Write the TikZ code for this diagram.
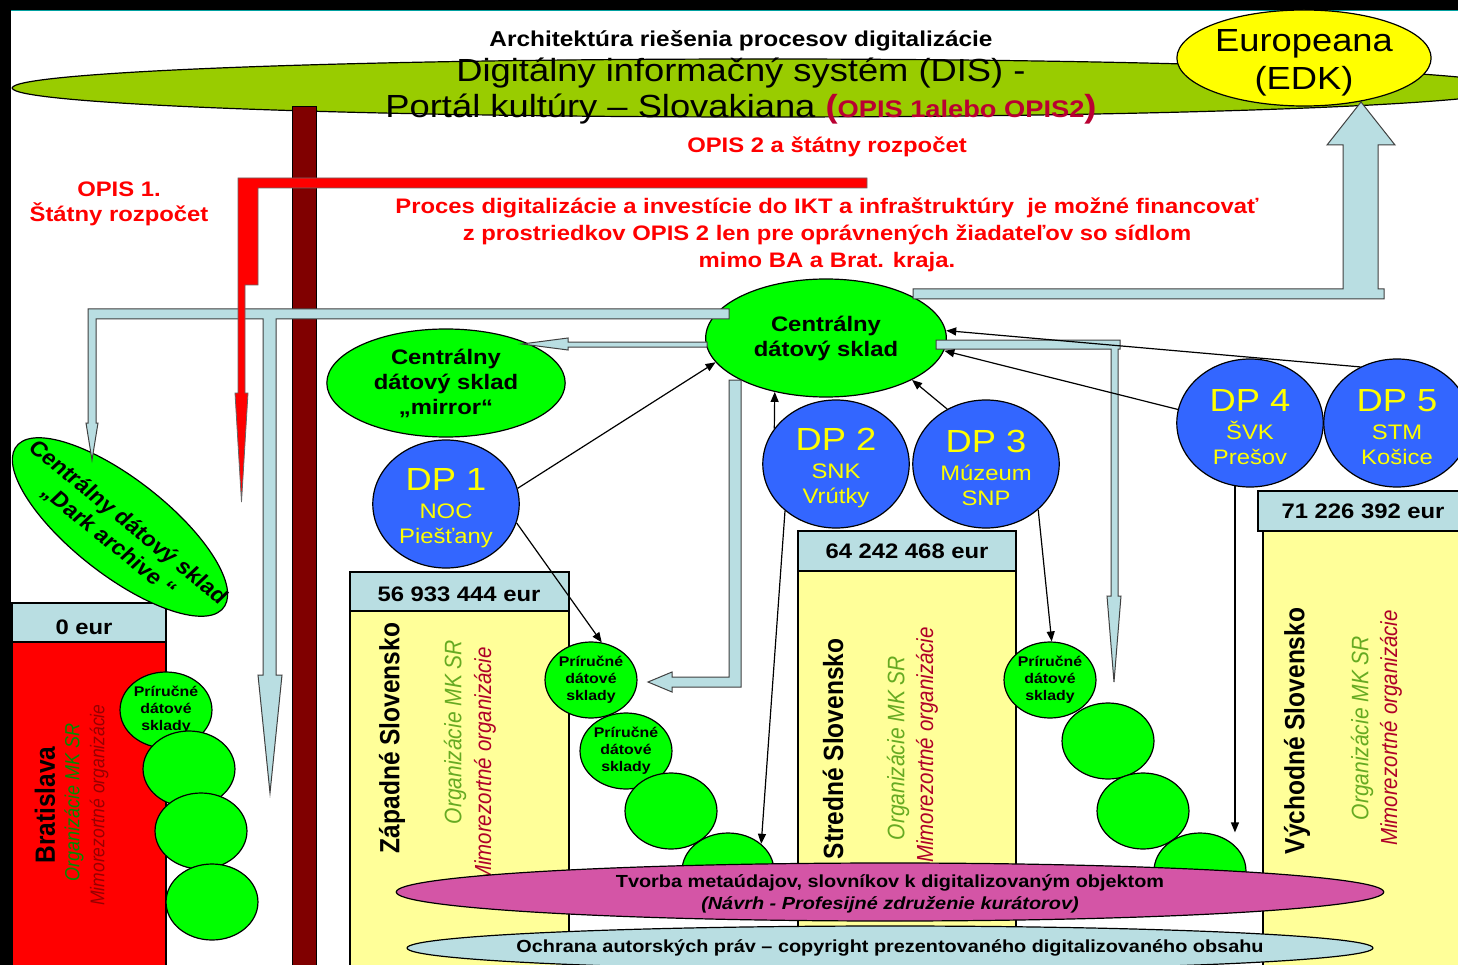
\documentclass[tikz,border=0pt]{standalone}
\usepackage{fontspec}
\setmainfont{Liberation Sans}
\usetikzlibrary{shapes.geometric,arrows.meta}

\definecolor{disgreen}{RGB}{153,204,0}
\definecolor{cgreen}{RGB}{0,255,0}
\definecolor{dpblue}{RGB}{51,102,255}
\definecolor{dpyellow}{RGB}{255,255,0}
\definecolor{pipeblue}{RGB}{185,222,226}
\definecolor{boxyellow}{RGB}{255,255,153}
\definecolor{barred}{RGB}{128,0,0}
\definecolor{metapink}{RGB}{212,85,166}
\definecolor{opisred}{RGB}{185,0,50}
\definecolor{orggreen}{RGB}{102,170,34}
\definecolor{mimred}{RGB}{175,0,40}
\definecolor{orgdark}{RGB}{0,140,0}
\definecolor{mimdark}{RGB}{150,0,0}
\definecolor{frameteal}{RGB}{0,160,160}

\newcommand{\dptitle}[1]{{\fontsize{32}{32}\selectfont\rule{0pt}{31pt}#1}\\[3pt]}

\begin{document}
\begin{tikzpicture}[x={(0.881057pt,0pt)}, y={(0pt,-1pt)}, xscale=1.135, transform shape,
  every node/.style={inner sep=0pt, align=center},
  dsklad/.style={ellipse, draw, line width=1.2pt, fill=cgreen, font=\bfseries\fontsize{21}{25}\selectfont},
  dpnode/.style={ellipse, draw, line width=1.2pt, fill=dpblue, text=dpyellow, minimum width=129pt, minimum height=128pt, font=\fontsize{21}{25}\selectfont},
  store/.style={ellipse, draw, line width=1.2pt, fill=cgreen, minimum width=81pt, minimum height=76pt, font=\bfseries\fontsize{14}{17}\selectfont},
  pipe/.style={fill=pipeblue, draw=black!75, line width=1pt},
  link/.style={-{Triangle[length=10pt,width=8pt]}, line width=1.2pt},
  redtext/.style={text=red, font=\bfseries\fontsize{21}{27}\selectfont},
  money/.style={font=\bfseries\fontsize{21}{25}\selectfont},
  region/.style={rotate=90, font=\bfseries\fontsize{24.5}{28}\selectfont},
  orglabel/.style={rotate=90, text=orggreen, font=\itshape\fontsize{21}{25}\selectfont},
  mimlabel/.style={rotate=90, text=mimred, font=\itshape\fontsize{20.5}{25}\selectfont}]

\useasboundingbox (0,0) rectangle (1458,965);
\clip (0,0) rectangle (1458,965);

% frame
\fill[white] (0,0) rectangle (1458,965);
\fill[black] (0,0) rectangle (1458,10);
\fill[black] (0,0) rectangle (11,965);
\draw[frameteal, line width=1pt] (11,10.5) -- (1458,10.5);

% portal
\node[ellipse, draw, line width=1.2pt, fill=disgreen, minimum width=1323pt, minimum height=58pt] (dis) at (763,88) {};
\node[font=\bfseries\fontsize{21.5}{25}\selectfont, anchor=base] (title) at (741,47) {Architektúra riešenia procesov digitalizácie};
\node[font=\fontsize{32}{36}\selectfont, anchor=base] (dis1) at (741,82) {Digitálny informačný systém (DIS) -};
\node[font=\fontsize{32}{36}\selectfont, anchor=base] (dis2) at (741,118) {Portál kultúry – Slovakiana {\color{opisred}\bfseries(\fontsize{24}{28}\selectfont OPIS 1alebo OPIS2\fontsize{32}{36}\selectfont)}};

% regions
\draw[line width=1.2pt, fill=pipeblue] (12,603) rectangle (166,642);
\draw[line width=1.2pt, fill=red] (12,642) rectangle (166,970);
\node[money] (eurB) at (84,627) {0 eur};
\draw[line width=1.2pt, fill=pipeblue] (350,572) rectangle (569,611);
\draw[line width=1.2pt, fill=boxyellow] (350,611) rectangle (569,970);
\node[money] (eurW) at (459,594) {56 933 444 eur};
\draw[line width=1.2pt, fill=pipeblue] (798,531) rectangle (1016,571);
\draw[line width=1.2pt, fill=boxyellow] (798,571) rectangle (1016,970);
\node[money] (eurC) at (907,551) {64 242 468 eur};
\draw[line width=1.2pt, fill=pipeblue] (1258,491) rectangle (1470,531);
\draw[line width=1.2pt, fill=boxyellow] (1263,531) rectangle (1470,970);
\node[money] (eurE) at (1363,511) {71 226 392 eur};

\node[region] (regB) at (45,805) {Bratislava};
\node[orglabel, text=orgdark, font=\itshape\fontsize{18}{22}\selectfont] (orgB) at (74,802) {Organizácie MK SR};
\node[mimlabel, text=mimdark, font=\itshape\fontsize{17.5}{22}\selectfont] (mimB) at (99,805) {Mimorezortné organizácie};
\node[region] (regW) at (392,738) {Západné Slovensko};
\node[orglabel] (orgW) at (455,732) {Organizácie MK SR};
\node[mimlabel] (mimW) at (485,765) {Mimorezortné organizácie};
\node[region] (regC) at (833,749) {Stredné Slovensko};
\node[orglabel] (orgC) at (898,748) {Organizácie MK SR};
\node[mimlabel] (mimC) at (927,745) {Mimorezortné organizácie};
\node[region] (regE) at (1297,731) {Východné Slovensko};
\node[orglabel] (orgE) at (1362,728) {Organizácie MK SR};
\node[mimlabel] (mimE) at (1391,728) {Mimorezortné organizácie};

% backbone
\draw[fill=barred, line width=1pt] (292,107) rectangle (316,970);

% data stores
\node[dsklad, minimum width=212pt, minimum height=118pt] (central) at (826,338) {Centrálny\\dátový sklad};
\node[dsklad, minimum width=210pt, minimum height=108pt] (mirror) at (446,383) {Centrálny\\dátový sklad\\„mirror“};
\node[dsklad, minimum width=244pt, minimum height=91pt, rotate=-42.7] (dark) at (120,527) {};
\node[font=\bfseries\fontsize{21}{25}\selectfont, rotate=-42.7] (darktext) at (118,532) {Centrálny dátový sklad\\„Dark archive “};

% pipes
\filldraw[pipe] (913,289) -- (1343,289) -- (1343,145) -- (1327,145) -- (1361,102) -- (1395,145) -- (1378,145) -- (1378,289) -- (1384,289) -- (1384,299) -- (913,299) -- cycle;
\filldraw[pipe] (88,309) -- (729,309) -- (729,319) -- (276,319) -- (276,675) -- (282,675) -- (270,793) -- (258,675) -- (263,675) -- (263,319) -- (96,319) -- (96,423) -- (98,423) -- (92,460) -- (86,423) -- (88,423) -- cycle;
\filldraw[pipe] (707,342) -- (568,342) -- (568,338) -- (522,344) -- (568,350) -- (568,347) -- (707,347) -- cycle;
\filldraw[pipe] (729,380) -- (741,380) -- (741,687) -- (672,687) -- (672,692) -- (648,682) -- (672,672) -- (672,677) -- (729,677) -- cycle;
\filldraw[pipe] (936,340) -- (1120,340) -- (1120,349) -- (1118,349) -- (1118,596) -- (1121,596) -- (1114,682) -- (1107,596) -- (1111,596) -- (1111,349) -- (936,349) -- cycle;

% state budget
\filldraw[fill=red, draw=black!60, line width=0.8pt] (238,178) -- (867,178) -- (867,188) -- (258,188) -- (258,285) -- (245,285) -- (245,393) -- (248,393) -- (241.5,502) -- (235,393) -- (238,393) -- cycle;
\node[redtext, font=\bfseries\fontsize{21}{25}\selectfont] (opis1) at (119,204) {OPIS 1.\\Štátny rozpočet};
\node[redtext] (opis2) at (827,147) {OPIS 2 a štátny rozpočet};
\node[redtext] (proces) at (827,235) {Proces digitalizácie a investície do IKT a infraštruktúry\ \ je možné financovať\\z prostriedkov OPIS 2 len pre oprávnených žiadateľov so sídlom\\mimo BA a Brat. kraja.};

% digitisation centres
\node[dpnode] (dp1) at (446,504) {\dptitle{DP 1}NOC\\Piešťany};
\node[dpnode] (dp2) at (836,464) {\dptitle{DP 2}SNK\\Vrútky};
\node[dpnode] (dp3) at (986,464) {\dptitle{DP 3}Múzeum\\SNP};
\node[dpnode] (dp4) at (1250,423) {\dptitle{DP 4}ŠVK\\Prešov};
\node[dpnode] (dp5) at (1397,423) {\dptitle{DP 5}STM\\Košice};

% local stores
\node[store] (sb1) at (166,710) {Príručné\\dátové\\sklady};
\node[store] (sb2) at (189,769) {};
\node[store] (sb3) at (201,831) {};
\node[store] (sb4) at (212,902) {};
\node[store] (sw1) at (591,680) {Príručné\\dátové\\sklady};
\node[store] (sw2) at (626,751) {Príručné\\dátové\\sklady};
\node[store] (sw3) at (671,811) {};
\node[store] (sw4) at (728,871) {};
\node[store] (se1) at (1050,680) {Príručné\\dátové\\sklady};
\node[store] (se2) at (1108,741) {};
\node[store] (se3) at (1143,811) {};
\node[store] (se4) at (1200,871) {};

% links
\draw[link] (dp1.14) -- (central.194);
\draw[link] (dp1.-17) -- (sw1.76);
\draw[link] (dp2.147) -- (central.230);
\draw[link] (dp2.226) -- (sw4.43);
\draw[link] (dp3.122) -- (central.-29);
\draw[link] (dp3.-45) -- (se1.88);
\draw[link] (dp4.168) -- (central.-7);
\draw[link] (dp5.120) -- (central.4);
\draw[link] (dp4.-102) -- (dp4.-102 |- se4.north);

% bottom layers
\node[ellipse, draw, line width=1.2pt, fill=metapink, minimum width=870pt, minimum height=58pt] (meta) at (890,892) {};
\node[font=\bfseries\fontsize{17.5}{22}\selectfont] (metatext) at (890,894) {Tvorba metaúdajov, slovníkov k digitalizovaným objektom\\\textit{(Návrh - Profesijné združenie kurátorov)}};
\node[ellipse, draw, line width=1.2pt, fill=pipeblue, minimum width=851pt, minimum height=44pt] (copy) at (890,948) {};
\node[font=\bfseries\fontsize{17.5}{22}\selectfont] (copytext) at (890,948) {Ochrana autorských práv – copyright prezentovaného digitalizovaného obsahu};

% europeana
\node[ellipse, draw, line width=1.2pt, fill=dpyellow, minimum width=224pt, minimum height=96pt] (edk) at (1304,58) {};
\node[font=\fontsize{32}{38}\selectfont] (edktext) at (1304,63) {Europeana\\(EDK)};

\end{tikzpicture}
\end{document}
